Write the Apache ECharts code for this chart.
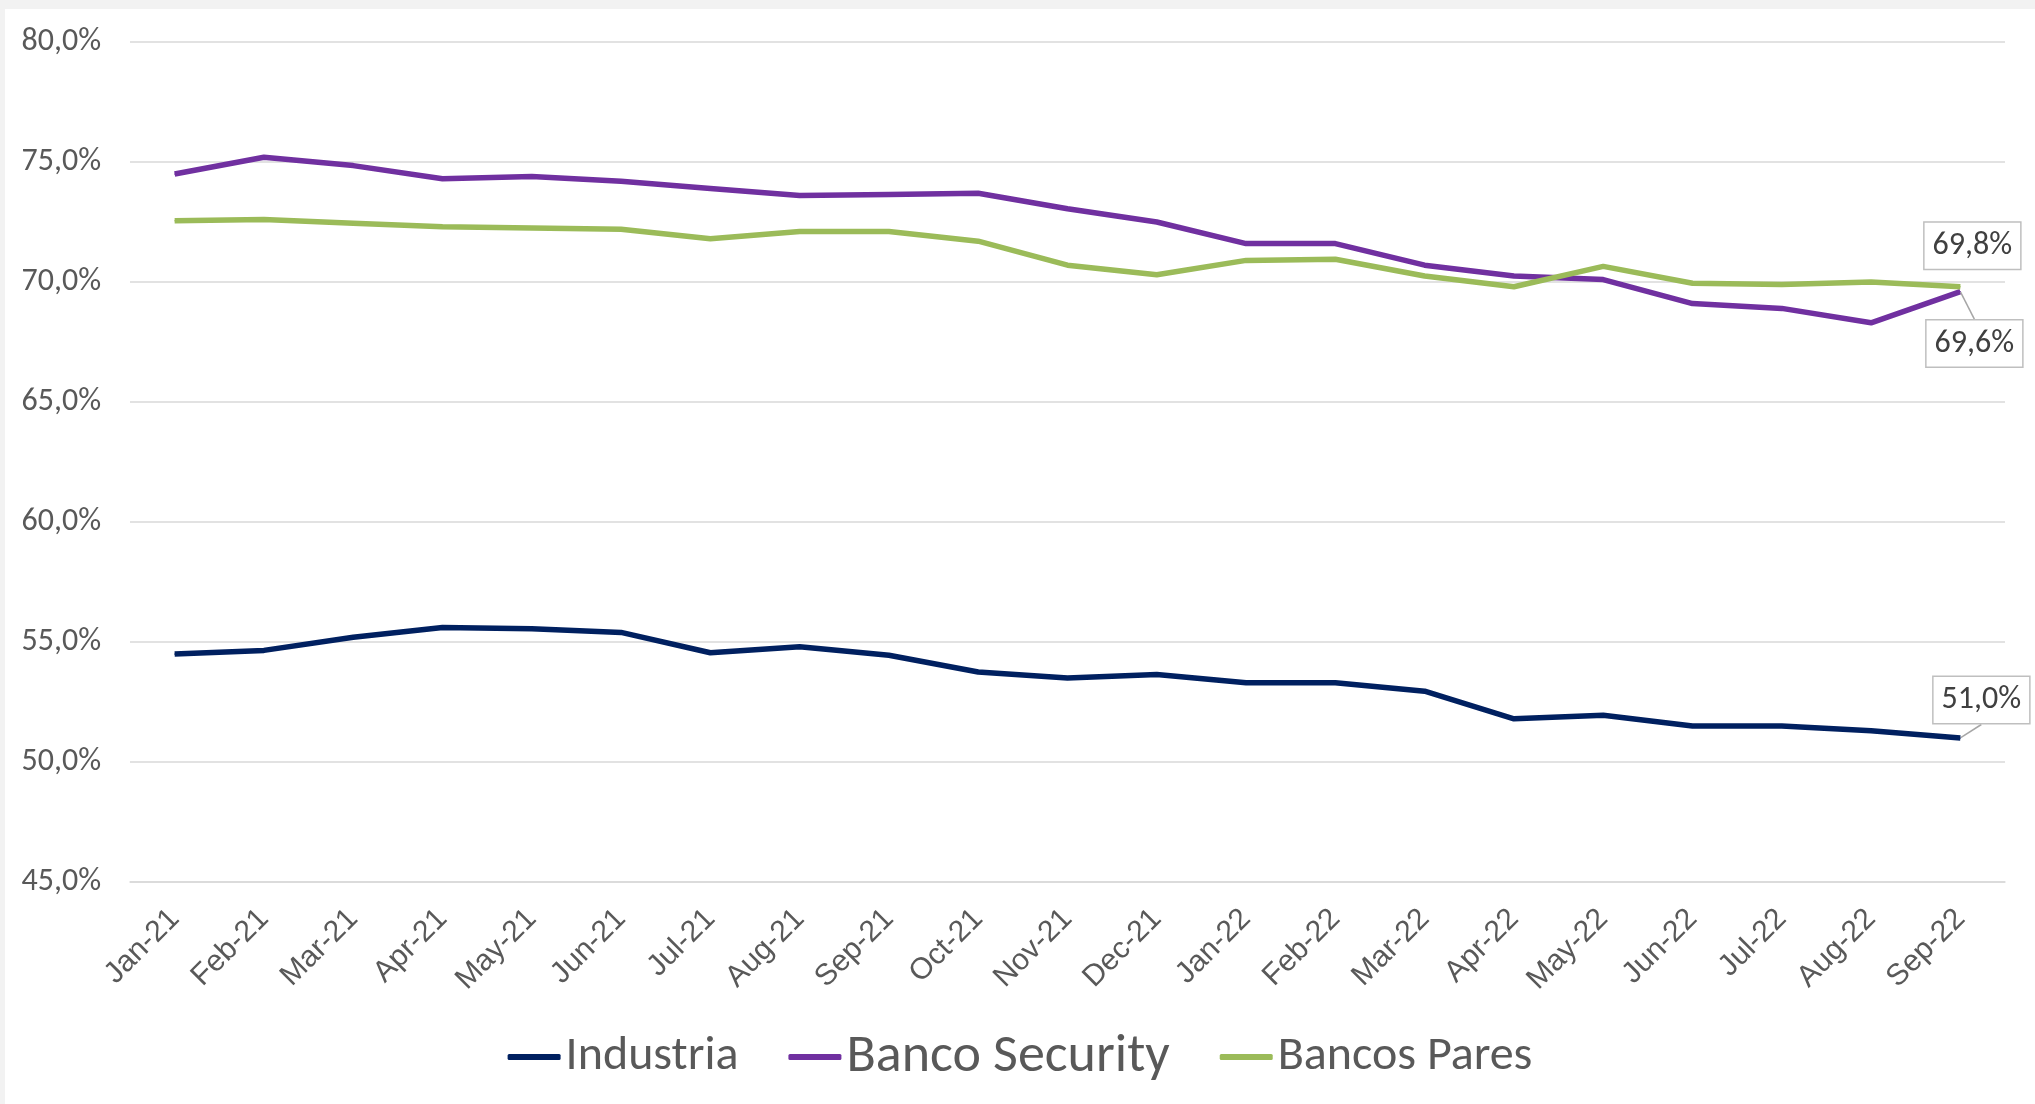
<!DOCTYPE html>
<html>
<head>
<meta charset="utf-8">
<script src="https://cdn.jsdelivr.net/npm/echarts@6/dist/echarts.min.js"></script>
<style>
  html, body { margin: 0; padding: 0; background: #f2f2f2; }
  #chart { position: absolute; left: 5px; top: 9px; width: 2030px; height: 1095px; background: #ffffff; }
</style>
</head>
<body>
<div id="chart"></div>
<script>
const categories = ['Jan-21','Feb-21','Mar-21','Apr-21','May-21','Jun-21','Jul-21','Aug-21','Sep-21','Oct-21','Nov-21','Dec-21',
  'Jan-22','Feb-22','Mar-22','Apr-22','May-22','Jun-22','Jul-22','Aug-22','Sep-22'];
const industria = [54.5, 54.65, 55.2, 55.6, 55.55, 55.4, 54.55, 54.8, 54.45, 53.75, 53.5, 53.65, 53.3, 53.3, 52.95, 51.8, 51.95, 51.5, 51.5, 51.3, 51.0];
const bancoSecurity = [74.5, 75.2, 74.85, 74.3, 74.4, 74.2, 73.9, 73.6, 73.65, 73.7, 73.05, 72.5, 71.6, 71.6, 70.7, 70.25, 70.1, 69.1, 68.9, 68.3, 69.6];
const bancosPares = [72.55, 72.6, 72.45, 72.3, 72.25, 72.2, 71.8, 72.1, 72.1, 71.7, 70.7, 70.3, 70.9, 70.95, 70.25, 69.8, 70.65, 69.95, 69.9, 70.0, 69.8];
const yTicks = { min: 45, max: 80, interval: 5 };

const NARROW = 'Carlito, "Liberation Sans Narrow", "Arial Narrow", "Open Sans", sans-serif';
const fmt = v => v.toFixed(1).replace('.', ',') + '%';

function lastLabeled(arr) {
  return arr.map((v, i) => i === arr.length - 1 ? { value: v, label: { show: true } } : v);
}

const labelStyle = {
  show: false,
  position: 'inside',
  formatter: p => fmt(p.value),
  fontFamily: NARROW,
  fontSize: 32,
  color: '#404040',
  backgroundColor: '#ffffff',
  borderColor: '#bfbfbf',
  borderWidth: 1.5,
  padding: [8, 8, 6, 8]
};

function makeSeries(name, data, color, dx, dy, showLine) {
  return {
    name: name,
    type: 'line',
    data: lastLabeled(data),
    symbol: 'circle',
    symbolSize: 1,
    showSymbol: true,
    itemStyle: { color: color },
    lineStyle: { color: color, width: 5.5 },
    label: Object.assign({}, labelStyle),
    labelLayout: { dx: dx, dy: dy },
    labelLine: { show: showLine, lineStyle: { color: '#a6a6a6', width: 1.5 } },
    emphasis: { disabled: true },
    z: 2
  };
}

const chart = echarts.init(document.getElementById('chart'));
chart.setOption({
  animation: false,
  backgroundColor: '#ffffff',
  grid: { left: 125, right: 30, top: 33, bottom: 222, containLabel: false },
  legend: {
    top: 1016,
    left: 'center',
    itemWidth: 53,
    itemHeight: 6,
    itemGap: 50,
    icon: 'roundRect',
    textStyle: { fontFamily: NARROW, fontSize: 48, color: '#595959' },
    data: [
      { name: 'Industria' },
      { name: 'Banco Security', textStyle: { fontSize: 54, fontFamily: NARROW } },
      { name: 'Bancos Pares' }
    ]
  },
  xAxis: {
    type: 'category',
    data: categories,
    boundaryGap: true,
    axisLine: { show: true, lineStyle: { color: '#d9d9d9', width: 1.5 } },
    axisTick: { show: false },
    axisLabel: {
      interval: 0,
      rotate: 45,
      margin: 32,
      fontFamily: '"Liberation Sans", Arial, sans-serif',
      fontSize: 30,
      color: '#595959'
    }
  },
  yAxis: {
    type: 'value',
    min: yTicks.min,
    max: yTicks.max,
    interval: yTicks.interval,
    axisLine: { show: false },
    axisTick: { show: false },
    splitLine: { lineStyle: { color: '#d9d9d9', width: 1.5 } },
    axisLabel: {
      formatter: v => fmt(v),
      margin: 29,
      fontFamily: NARROW,
      fontSize: 32,
      color: '#595959'
    }
  },
  series: [
    makeSeries('Industria', industria, '#002060', 21, -38, true),
    makeSeries('Banco Security', bancoSecurity, '#7030a0', 14, 52, true),
    makeSeries('Bancos Pares', bancosPares, '#9bbb59', 12, -41, false)
  ]
});
</script>
</body>
</html>
